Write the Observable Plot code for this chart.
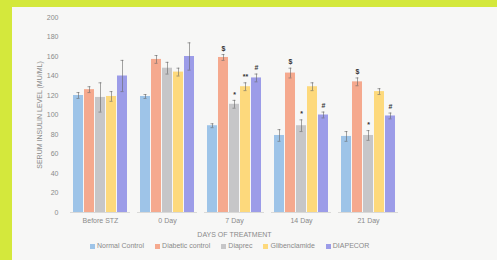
<!DOCTYPE html>
<html><head><meta charset="utf-8">
<script src="https://cdn.jsdelivr.net/npm/d3@7"></script>
<script src="https://cdn.jsdelivr.net/npm/@observablehq/plot@0.6"></script>
<style>
html,body{margin:0;padding:0;}
body{width:497px;height:260px;background:#d4e83c;position:relative;overflow:hidden;font-family:"Liberation Sans",Arial,sans-serif;}
#panel{position:absolute;left:12px;top:7px;width:485px;height:253px;background:#f7f7f6;}
#chart{position:absolute;left:0;top:0;}
#legend{position:absolute;top:235px;left:78px;display:flex;gap:11px;font-size:7px;color:#8a8a8a;white-space:nowrap;}
#legend span.sw{display:inline-block;width:5px;height:5px;margin-right:2px;vertical-align:-0.5px;}
</style></head>
<body><div id="panel"><div id="chart"></div><div id="legend"></div></div>
<script>
const days = ["Before STZ", "0 Day", "7 Day", "14 Day", "21 Day"];
const groups = ["Normal Control", "Diabetic control", "Diaprec", "Glibenclamide", "DIAPECOR"];
const colors = ["#9ec4e8", "#f5a98e", "#c6c6c8", "#fdd97c", "#9c9ce8"];
const normalControl   = [120, 119, 89, 79, 78];
const diabeticControl = [126, 157, 159, 143, 134];
const diaprec         = [118, 148, 111, 89, 79];
const glibenclamide   = [119, 144, 129, 129, 124];
const diapecor        = [140, 160, 138, 100, 99];
const errNormal   = [3, 2, 2, 6, 5];
const errDiabetic = [3, 4, 3, 5, 4];
const errDiaprec  = [15, 6, 4, 6, 5];
const errGlib     = [5, 4, 4, 4, 3];
const errDiapecor = [16, 14, 4, 3, 3];
const marksDiabetic = ["", "", "$", "$", "$"];
const marksDiaprec  = ["", "", "*", "*", "*"];
const marksGlib     = ["", "", "**", "", ""];
const marksDiapecor = ["", "", "#", "#", "#"];
const marksNormal   = ["", "", "", "", ""];
const yTicks = [0, 20, 40, 60, 80, 100, 120, 140, 160, 180, 200];

const series = [normalControl, diabeticControl, diaprec, glibenclamide, diapecor];
const errs = [errNormal, errDiabetic, errDiaprec, errGlib, errDiapecor];
const sig = [marksNormal, marksDiabetic, marksDiaprec, marksGlib, marksDiapecor];
const data = [];
days.forEach((d, i) => groups.forEach((g, j) => data.push({
  day: d, group: g, value: series[j][i], err: errs[j][i], mark: sig[j][i]
})));

const chart = Plot.plot({
  width: 485, height: 235,
  marginLeft: 54, marginRight: 94, marginTop: 10, marginBottom: 30,
  style: {fontFamily: "'Liberation Sans', Arial, sans-serif", fontSize: "7px", color: "#8a8a8a", background: "transparent"},
  fx: {domain: days, paddingInner: 0.1, paddingOuter: 0.05, label: null},
  x: {domain: groups, padding: 0.07, axis: null},
  y: {domain: [0, 200], ticks: yTicks},
  color: {domain: groups, range: colors},
  marks: [
    Plot.axisY({ticks: yTicks, tickSize: 0, tickPadding: 12, label: "SERUM INSULIN LEVEL (MU/ML)", labelAnchor: "center", labelArrow: "none", labelOffset: 33, fill: "#8a8a8a"}),
    Plot.axisFx({anchor: "bottom", tickSize: 0, tickPadding: 6, label: "DAYS OF TREATMENT", labelAnchor: "center", labelArrow: "none", labelOffset: 24, fill: "#8a8a8a", fontSize: 7}),
    Plot.barY(data, {fx: "day", x: "group", y: "value", fill: "group"}),
    Plot.ruleX(data, {fx: "day", x: "group", y1: d => d.value - d.err, y2: d => d.value + d.err, stroke: "#666", strokeWidth: 0.6}),
    Plot.tickY(data, {fx: "day", x: "group", y: d => d.value + d.err, stroke: "#666", strokeWidth: 0.6, insetLeft: 3.5, insetRight: 3.5}),
    Plot.tickY(data, {fx: "day", x: "group", y: d => d.value - d.err, stroke: "#666", strokeWidth: 0.6, insetLeft: 3.5, insetRight: 3.5}),
    Plot.text(data, {fx: "day", x: "group", y: d => d.value + d.err, text: "mark", dy: -6, fill: "#333", fontSize: 7, fontWeight: "bold"}),
    Plot.ruleY([0], {stroke: "#d0d0d0", strokeWidth: 0.8})
  ]
});
document.getElementById("chart").appendChild(chart);

const lg = document.getElementById("legend");
groups.forEach((g, j) => {
  const it = document.createElement("div");
  it.innerHTML = `<span class="sw" style="background:${colors[j]}"></span>${g}`;
  lg.appendChild(it);
});
</script>
</body></html>
